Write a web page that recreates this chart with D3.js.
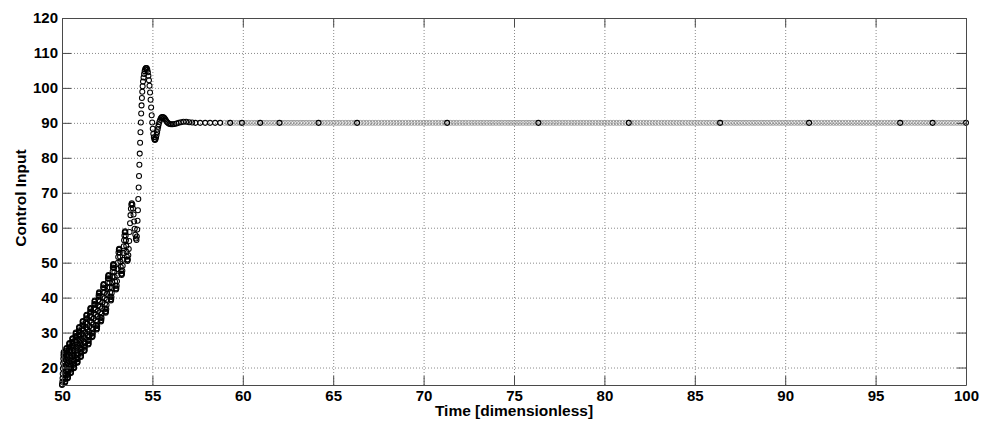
<!DOCTYPE html>
<html>
<head>
<meta charset="utf-8">
<script src="https://cdn.jsdelivr.net/npm/d3@7"></script>
<style>
  body { margin: 0; background: #fff; }
  svg { display: block; }
  .tick text { font-family: "Liberation Sans", Arial, sans-serif; font-weight: bold; font-size: 15px; fill: #000; }
  .axis-title { font-family: "Liberation Sans", Arial, sans-serif; font-weight: bold; font-size: 15.5px; fill: #000; }
</style>
</head>
<body>
<svg id="chart" width="986" height="424"></svg>
<script>
// Axis ticks
const xTicks = [50, 55, 60, 65, 70, 75, 80, 85, 90, 95, 100];
const yTicks = [20, 30, 40, 50, 60, 70, 80, 90, 100, 110, 120];

// Solver output during the oscillating ramp (one row per oscillation)
const rampTime = [
  50.00,
  50.01, 50.02, 50.03, 50.04, 50.05, 50.06, 50.07, 50.08, 50.09, 50.10, 50.109, 50.118, 50.126, 50.135, 50.144, 50.153, 50.161, 50.17,
  50.178, 50.186, 50.194, 50.202, 50.21, 50.218, 50.226, 50.234, 50.242, 50.25, 50.259, 50.268, 50.276, 50.285, 50.294, 50.303, 50.311, 50.32,
  50.329, 50.338, 50.347, 50.356, 50.365, 50.374, 50.383, 50.392, 50.401, 50.41, 50.42, 50.43, 50.44, 50.45, 50.46, 50.47, 50.48, 50.49,
  50.499, 50.508, 50.517, 50.526, 50.535, 50.544, 50.553, 50.562, 50.571, 50.58, 50.59, 50.60, 50.61, 50.62, 50.63, 50.64, 50.65, 50.66,
  50.67, 50.68, 50.69, 50.70, 50.71, 50.72, 50.73, 50.74, 50.75, 50.76, 50.771, 50.783, 50.794, 50.805, 50.816, 50.828, 50.839, 50.85,
  50.86, 50.87, 50.88, 50.89, 50.90, 50.91, 50.92, 50.93, 50.94, 50.95, 50.961, 50.973, 50.984, 50.995, 51.006, 51.018, 51.029, 51.04,
  51.051, 51.062, 51.073, 51.084, 51.095, 51.106, 51.117, 51.128, 51.139, 51.15, 51.161, 51.173, 51.184, 51.195, 51.206, 51.218, 51.229, 51.24,
  51.252, 51.264, 51.276, 51.288, 51.30, 51.312, 51.324, 51.336, 51.348, 51.36, 51.373, 51.385, 51.398, 51.41, 51.423, 51.435, 51.448, 51.46,
  51.472, 51.484, 51.496, 51.508, 51.52, 51.532, 51.544, 51.556, 51.568, 51.58, 51.593, 51.605, 51.618, 51.63, 51.643, 51.655, 51.668, 51.68,
  51.693, 51.706, 51.719, 51.732, 51.745, 51.758, 51.771, 51.784, 51.797, 51.81, 51.824, 51.838, 51.851, 51.865, 51.879, 51.893, 51.906, 51.92,
  51.933, 51.946, 51.959, 51.972, 51.985, 51.998, 52.011, 52.024, 52.037, 52.05, 52.064, 52.078, 52.091, 52.105, 52.119, 52.133, 52.146, 52.16,
  52.174, 52.188, 52.202, 52.216, 52.23, 52.244, 52.258, 52.272, 52.286, 52.30, 52.315, 52.33, 52.345, 52.36, 52.375, 52.39, 52.405, 52.42,
  52.435, 52.45, 52.465, 52.48, 52.495, 52.51, 52.525, 52.54, 52.555, 52.57, 52.588, 52.605, 52.623, 52.64, 52.658, 52.675, 52.693, 52.71,
  52.723, 52.736, 52.749, 52.762, 52.775, 52.788, 52.801, 52.814, 52.827, 52.84, 52.859, 52.878, 52.896, 52.915, 52.934, 52.953, 52.971, 52.99,
  53.007, 53.024, 53.041, 53.058, 53.075, 53.092, 53.109, 53.126, 53.143, 53.16, 53.178, 53.195, 53.213, 53.23, 53.248, 53.265, 53.283, 53.30,
  53.319, 53.338, 53.357, 53.376, 53.395, 53.414, 53.433, 53.452, 53.471, 53.49, 53.506, 53.523, 53.539, 53.555, 53.571, 53.588, 53.604, 53.62,
  53.644, 53.668, 53.692, 53.716, 53.74, 53.764, 53.788, 53.812, 53.836, 53.86, 53.893, 53.925, 53.958, 53.99, 54.023, 54.055, 54.088, 54.12
];
const rampInput = [
  15.0,
  15.2, 15.9, 16.9, 18.2, 19.7, 21.2, 22.5, 23.5, 24.2, 24.4, 24.1, 23.1, 21.7, 20.1, 18.4, 17.0, 16.0, 15.7,
  15.9, 16.7, 17.7, 19.1, 20.7, 22.2, 23.6, 24.7, 25.4, 25.6, 25.3, 24.3, 22.9, 21.3, 19.6, 18.2, 17.2, 16.9,
  17.2, 17.9, 19.0, 20.4, 22.0, 23.5, 24.9, 26.0, 26.8, 27.0, 26.7, 25.7, 24.3, 22.7, 21.1, 19.7, 18.7, 18.4,
  18.6, 19.4, 20.5, 21.9, 23.4, 24.9, 26.3, 27.4, 28.2, 28.4, 28.1, 27.1, 25.7, 24.1, 22.5, 21.1, 20.1, 19.8,
  20.0, 20.8, 21.9, 23.3, 24.9, 26.5, 27.9, 29.0, 29.7, 30.0, 29.7, 28.7, 27.3, 25.7, 24.1, 22.7, 21.7, 21.4,
  21.6, 22.4, 23.5, 24.9, 26.5, 28.1, 29.5, 30.6, 31.3, 31.6, 31.3, 30.3, 28.9, 27.3, 25.7, 24.3, 23.3, 23.0,
  23.3, 24.0, 25.1, 26.6, 28.2, 29.7, 31.2, 32.3, 33.1, 33.3, 33.0, 32.0, 30.6, 29.0, 27.4, 26.0, 25.0, 24.7,
  25.0, 25.7, 26.8, 28.3, 29.9, 31.5, 33.0, 34.1, 34.9, 35.1, 34.8, 33.9, 32.5, 30.9, 29.2, 27.8, 26.9, 26.6,
  26.9, 27.6, 28.7, 30.2, 31.8, 33.4, 34.9, 36.0, 36.8, 37.0, 36.7, 35.8, 34.4, 32.9, 31.3, 29.9, 29.0, 28.7,
  29.0, 29.7, 30.9, 32.3, 34.0, 35.6, 37.0, 38.2, 38.9, 39.2, 38.9, 38.0, 36.6, 35.1, 33.5, 32.1, 31.2, 30.9,
  31.2, 31.9, 33.1, 34.6, 36.2, 37.8, 39.3, 40.5, 41.2, 41.5, 41.2, 40.3, 38.9, 37.4, 35.8, 34.4, 33.5, 33.2,
  33.5, 34.2, 35.4, 36.9, 38.6, 40.2, 41.7, 42.9, 43.6, 43.9, 43.6, 42.7, 41.4, 39.8, 38.2, 36.9, 36.0, 35.7,
  36.0, 36.7, 37.9, 39.4, 41.1, 42.8, 44.3, 45.5, 46.2, 46.5, 46.2, 45.4, 44.3, 42.9, 41.5, 40.3, 39.5, 39.2,
  39.5, 40.2, 41.3, 42.8, 44.4, 46.0, 47.5, 48.6, 49.3, 49.6, 49.3, 48.5, 47.3, 45.9, 44.6, 43.4, 42.6, 42.3,
  42.6, 43.4, 44.7, 46.3, 48.2, 50.0, 51.6, 52.9, 53.7, 54.0, 53.7, 52.9, 51.7, 50.3, 48.8, 47.6, 46.8, 46.5,
  46.8, 47.7, 49.1, 50.8, 52.8, 54.7, 56.4, 57.8, 58.7, 59.0, 58.7, 57.8, 56.4, 54.8, 53.1, 51.7, 50.8, 50.5,
  50.9, 52.1, 53.9, 56.2, 58.8, 61.3, 63.6, 65.4, 66.6, 67.0, 66.6, 65.5, 63.8, 61.8, 59.7, 58.0, 56.9, 56.5
];

// Solver output through the overshoot and settling
const settleTime = [
  54.14, 54.16, 54.18, 54.20, 54.22, 54.24, 54.26, 54.28, 54.30, 54.32,
  54.34, 54.36, 54.38, 54.40, 54.42, 54.44, 54.46, 54.48, 54.51, 54.54,
  54.57, 54.60, 54.63, 54.66, 54.69, 54.72, 54.75, 54.78, 54.81, 54.84,
  54.87, 54.90, 54.93, 54.96, 54.99, 55.02, 55.05, 55.08, 55.11, 55.14,
  55.17, 55.20, 55.23, 55.26, 55.29, 55.32, 55.35, 55.39, 55.43, 55.47,
  55.51, 55.56, 55.61, 55.66, 55.71, 55.76, 55.82, 55.88, 55.95, 56.03,
  56.12, 56.22, 56.33, 56.45, 56.58, 56.72, 56.87, 57.03, 57.20, 57.38,
  57.64, 57.92, 58.19, 58.47, 58.75, 59.30, 59.95, 60.96, 62.03, 64.19,
  66.32, 71.30, 76.35, 81.35, 86.40, 91.32, 96.36, 98.15, 100.00
];
const settleInput = [
  57.5, 59.5, 62.0, 65.0, 68.2, 71.5, 74.8, 78.0, 81.2, 84.3,
  87.3, 90.1, 92.7, 95.0, 97.1, 98.9, 100.5, 101.8, 103.0, 104.0,
  104.8, 105.3, 105.6, 105.7, 105.6, 105.2, 104.5, 103.5, 102.2, 100.6,
  98.7, 96.6, 94.4, 92.2, 90.1, 88.3, 86.9, 85.9, 85.3, 85.1,
  85.3, 85.8, 86.5, 87.3, 88.1, 88.9, 89.6, 90.3, 90.9, 91.3,
  91.6, 91.7, 91.6, 91.4, 91.0, 90.6, 90.2, 89.9, 89.7, 89.6,
  89.6, 89.7, 89.8, 90.0, 90.2, 90.3, 90.3, 90.2, 90.1, 90.0,
  90.0, 90.0, 90.0, 90.0, 90.0, 90.0, 90.0, 90.0, 90.0, 90.0,
  90.0, 90.0, 90.0, 90.0, 90.0, 90.0, 90.0, 90.0, 90.0
];

// Refined output points between solver steps once the input has settled
const refineTime = [
  59.00, 59.17, 59.33, 59.50, 59.67, 59.83, 60.00, 60.17, 60.33, 60.50, 60.67, 60.83,
  61.00, 61.17, 61.33, 61.50, 61.67, 61.83, 62.00, 62.17, 62.33, 62.50, 62.67, 62.83,
  63.00, 63.17, 63.33, 63.50, 63.67, 63.83, 64.00, 64.17, 64.33, 64.50, 64.67, 64.83,
  65.00, 65.17, 65.33, 65.50, 65.67, 65.83, 66.00, 66.17, 66.33, 66.50, 66.67, 66.83,
  67.00, 67.17, 67.33, 67.50, 67.67, 67.83, 68.00, 68.17, 68.33, 68.50, 68.67, 68.83,
  69.00, 69.17, 69.33, 69.50, 69.67, 69.83, 70.00, 70.17, 70.33, 70.50, 70.67, 70.83,
  71.00, 71.17, 71.33, 71.50, 71.67, 71.83, 72.00, 72.17, 72.33, 72.50, 72.67, 72.83,
  73.00, 73.17, 73.33, 73.50, 73.67, 73.83, 74.00, 74.17, 74.33, 74.50, 74.67, 74.83,
  75.00, 75.17, 75.33, 75.50, 75.67, 75.83, 76.00, 76.17, 76.33, 76.50, 76.67, 76.83,
  77.00, 77.17, 77.33, 77.50, 77.67, 77.83, 78.00, 78.17, 78.33, 78.50, 78.67, 78.83,
  79.00, 79.17, 79.33, 79.50, 79.67, 79.83, 80.00, 80.17, 80.33, 80.50, 80.67, 80.83,
  81.00, 81.17, 81.33, 81.50, 81.67, 81.83, 82.00, 82.17, 82.33, 82.50, 82.67, 82.83,
  83.00, 83.17, 83.33, 83.50, 83.67, 83.83, 84.00, 84.17, 84.33, 84.50, 84.67, 84.83,
  85.00, 85.17, 85.33, 85.50, 85.67, 85.83, 86.00, 86.17, 86.33, 86.50, 86.67, 86.83,
  87.00, 87.17, 87.33, 87.50, 87.67, 87.83, 88.00, 88.17, 88.33, 88.50, 88.67, 88.83,
  89.00, 89.17, 89.33, 89.50, 89.67, 89.83, 90.00, 90.17, 90.33, 90.50, 90.67, 90.83,
  91.00, 91.17, 91.33, 91.50, 91.67, 91.83, 92.00, 92.17, 92.33, 92.50, 92.67, 92.83,
  93.00, 93.17, 93.33, 93.50, 93.67, 93.83, 94.00, 94.17, 94.33, 94.50, 94.67, 94.83,
  95.00, 95.17, 95.33, 95.50, 95.67, 95.83, 96.00, 96.17, 96.33, 96.50, 96.67, 96.83,
  97.00, 97.17, 97.33, 97.50, 97.67, 97.83, 98.00, 98.17, 98.33, 98.50, 98.67, 98.83,
  99.00, 99.17, 99.33, 99.50, 99.67, 99.83
];
const settledInput = 90;

const svg = d3.select("#chart");
const box = { left: 62, top: 18, right: 966, bottom: 385 };
const plotW = box.right - box.left;
const plotH = box.bottom - box.top;
const tickLen = 9;
const markerR = 2.5;

const x = d3.scaleLinear().domain([50, 100]).range([box.left, box.right]);
const y = d3.scaleLinear().domain([15, 120]).range([box.bottom, box.top]);

svg.append("rect").attr("x", 0).attr("y", 0).attr("width", 986).attr("height", 424).attr("fill", "#fff");

// Dotted grid
const gridX = svg.append("g")
  .attr("transform", `translate(0,${box.bottom})`)
  .call(d3.axisBottom(x).tickValues(xTicks.slice(1, -1)).tickSize(-plotH).tickFormat(""));
const gridY = svg.append("g")
  .attr("transform", `translate(${box.left},0)`)
  .call(d3.axisLeft(y).tickValues(yTicks.slice(0, -1)).tickSize(-plotW).tickFormat(""));
[gridX, gridY].forEach(g => {
  g.select(".domain").remove();
  g.selectAll(".tick line").attr("stroke", "#8a8a8a").attr("stroke-width", 1).attr("stroke-dasharray", "1,2");
});

// Markers
const refined = refineTime.map(t => ({ t, u: settledInput }));
svg.append("g")
  .selectAll("circle")
  .data(refined)
  .join("circle")
  .attr("cx", d => x(d.t))
  .attr("cy", d => y(d.u))
  .attr("r", markerR)
  .attr("fill", "none")
  .attr("stroke", "#888")
  .attr("stroke-width", 0.8);

const points = rampTime.map((t, i) => ({ t, u: rampInput[i] }))
  .concat(settleTime.map((t, i) => ({ t, u: settleInput[i] })));
svg.append("g")
  .selectAll("circle")
  .data(points)
  .join("circle")
  .attr("cx", d => x(d.t))
  .attr("cy", d => y(d.u))
  .attr("r", markerR)
  .attr("fill", "none")
  .attr("stroke", "#000")
  .attr("stroke-width", 1.05);

// Box axes with inward ticks
const axisColor = "#4a4a4a";
const axB = svg.append("g").attr("transform", `translate(0,${box.bottom})`)
  .call(d3.axisBottom(x).tickValues(xTicks).tickSize(-tickLen).tickSizeOuter(0).tickPadding(5));
const axL = svg.append("g").attr("transform", `translate(${box.left},0)`)
  .call(d3.axisLeft(y).tickValues(yTicks).tickSize(-tickLen).tickSizeOuter(0).tickPadding(4));
const axT = svg.append("g").attr("transform", `translate(0,${box.top})`)
  .call(d3.axisTop(x).tickValues(xTicks).tickSize(-tickLen).tickSizeOuter(0).tickFormat(""));
const axR = svg.append("g").attr("transform", `translate(${box.right},0)`)
  .call(d3.axisRight(y).tickValues(yTicks).tickSize(-tickLen).tickSizeOuter(0).tickFormat(""));
[axB, axL, axT, axR].forEach(g => {
  g.attr("font-family", null).attr("font-size", null);
  g.select(".domain").attr("stroke", axisColor).attr("stroke-width", 1);
  g.selectAll(".tick line").attr("stroke", axisColor).attr("stroke-width", 1);
});

// Axis titles
svg.append("text")
  .attr("class", "axis-title")
  .attr("x", (box.left + box.right) / 2)
  .attr("y", 416)
  .attr("text-anchor", "middle")
  .text("Time [dimensionless]");
svg.append("text")
  .attr("class", "axis-title")
  .attr("transform", `translate(26,198) rotate(-90)`)
  .attr("text-anchor", "middle")
  .text("Control Input");
</script>
</body>
</html>
